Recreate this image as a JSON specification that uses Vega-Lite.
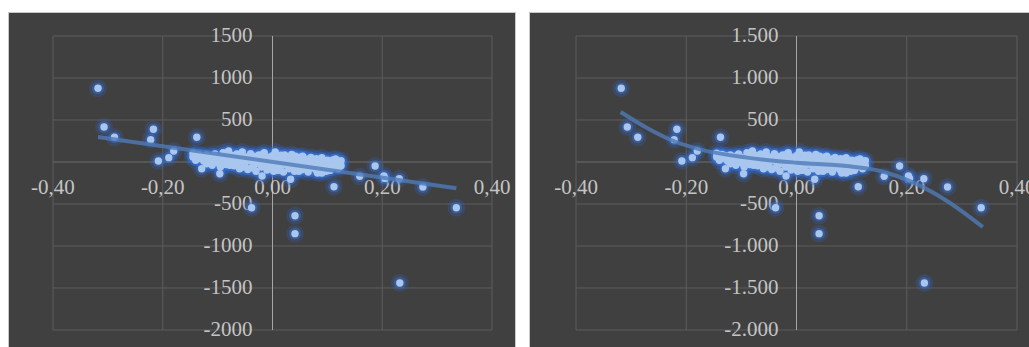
{
"$schema": "https://vega.github.io/schema/vega-lite/v6.json",
"background": "white",
"padding": {"left": 7, "top": 11, "right": 0, "bottom": 0},
"spacing": 12,
"config": {"view": {"fill": "#404040", "stroke": "#c8c8c8", "strokeWidth": 1}},
"datasets": {
"pts": [
{"x":-0.318,"y":877},{"x":-0.307,"y":417},{"x":-0.288,"y":294},{"x":-0.217,"y":389},{"x":-0.222,"y":266},{"x":-0.208,"y":12},{"x":-0.189,"y":52},{"x":-0.18,"y":131},{"x":-0.138,"y":294},{"x":-0.129,"y":-80},{"x":-0.096,"y":-139},{"x":-0.038,"y":-544},{"x":-0.019,"y":-167},{"x":0.041,"y":-639},{"x":0.041,"y":-853},{"x":0.033,"y":-206},{"x":0.112,"y":-294},{"x":0.159,"y":-171},{"x":0.187,"y":-48},{"x":0.203,"y":-167},{"x":0.205,"y":-195},{"x":0.231,"y":-198},{"x":0.274,"y":-298},{"x":0.335,"y":-544},{"x":0.232,"y":-1440},
{"x":-0.145,"y":105},{"x":-0.145,"y":60},{"x":-0.14,"y":80},{"x":-0.14,"y":20},{"x":-0.135,"y":55},{"x":-0.135,"y":90},{"x":-0.13,"y":40},{"x":-0.13,"y":75},{"x":-0.125,"y":10},{"x":-0.125,"y":65},{"x":-0.12,"y":85},{"x":-0.12,"y":-20},{"x":-0.115,"y":45},{"x":-0.115,"y":5},{"x":-0.11,"y":70},{"x":-0.11,"y":-40},{"x":-0.105,"y":20},{"x":-0.105,"y":95},{"x":-0.1,"y":-10},{"x":-0.1,"y":55},{"x":-0.095,"y":40},{"x":-0.095,"y":-60},{"x":-0.09,"y":110},{"x":-0.09,"y":10},{"x":-0.085,"y":-30},{"x":-0.085,"y":60},{"x":-0.08,"y":25},{"x":-0.08,"y":130},{"x":-0.075,"y":-5},{"x":-0.075,"y":80},{"x":-0.07,"y":45},{"x":-0.07,"y":-45},{"x":-0.065,"y":95},{"x":-0.065,"y":-15},{"x":-0.06,"y":30},{"x":-0.06,"y":-80},{"x":-0.055,"y":120},{"x":-0.055,"y":0},{"x":-0.05,"y":60},{"x":-0.05,"y":-35},{"x":-0.045,"y":-90},{"x":-0.045,"y":40},{"x":-0.04,"y":15},{"x":-0.04,"y":100},{"x":-0.035,"y":-50},{"x":-0.035,"y":70},{"x":-0.03,"y":30},{"x":-0.03,"y":-110},{"x":-0.025,"y":85},{"x":-0.025,"y":-20},{"x":-0.02,"y":-60},{"x":-0.02,"y":45},{"x":-0.015,"y":10},{"x":-0.015,"y":110},{"x":-0.01,"y":-95},{"x":-0.01,"y":60},{"x":-0.005,"y":25},{"x":-0.005,"y":-40},{"x":0.0,"y":75},{"x":0.0,"y":-70},{"x":0.005,"y":-15},{"x":0.005,"y":120},{"x":0.01,"y":40},{"x":0.01,"y":-100},{"x":0.015,"y":-45},{"x":0.015,"y":80},{"x":0.02,"y":15},{"x":0.02,"y":-120},{"x":0.025,"y":60},{"x":0.025,"y":-30},{"x":0.03,"y":-80},{"x":0.03,"y":25},{"x":0.035,"y":90},{"x":0.035,"y":-55},{"x":0.04,"y":-10},{"x":0.04,"y":-110},{"x":0.045,"y":45},{"x":0.045,"y":-75},{"x":0.05,"y":-35},{"x":0.05,"y":20},{"x":0.055,"y":70},{"x":0.055,"y":-90},{"x":0.06,"y":-50},{"x":0.06,"y":5},{"x":0.065,"y":35},{"x":0.065,"y":-120},{"x":0.07,"y":-70},{"x":0.07,"y":55},{"x":0.075,"y":0},{"x":0.075,"y":-45},{"x":0.08,"y":40},{"x":0.08,"y":-100},{"x":0.085,"y":-20},{"x":0.085,"y":-65},{"x":0.09,"y":50},{"x":0.09,"y":-130},{"x":0.095,"y":-5},{"x":0.095,"y":-80},{"x":0.1,"y":20},{"x":0.1,"y":-50},{"x":0.105,"y":-100},{"x":0.105,"y":0},{"x":0.11,"y":25},{"x":0.11,"y":-60},{"x":0.115,"y":-20},{"x":0.115,"y":35},{"x":0.12,"y":10},{"x":0.12,"y":-80},{"x":0.125,"y":15},{"x":0.125,"y":-45},
{"x":-0.088,"y":50},{"x":-0.072,"y":70},{"x":-0.062,"y":40},{"x":-0.052,"y":-60},{"x":-0.042,"y":65},{"x":-0.032,"y":-20},{"x":-0.022,"y":20},{"x":-0.012,"y":-30},{"x":-0.002,"y":30},{"x":0.008,"y":-50},{"x":0.018,"y":55},{"x":0.028,"y":-10},{"x":0.038,"y":40},{"x":0.048,"y":-110},{"x":0.058,"y":30},{"x":0.068,"y":-20},{"x":0.078,"y":-80},{"x":0.088,"y":10},{"x":0.098,"y":-110},{"x":-0.078,"y":-40},{"x":-0.058,"y":85},{"x":-0.038,"y":-70},{"x":-0.018,"y":90},{"x":0.002,"y":-110},{"x":0.022,"y":85},{"x":0.042,"y":70},{"x":0.062,"y":-70},{"x":0.082,"y":-130},{"x":0.052,"y":60},{"x":0.012,"y":20}
],
"hgrid": [{"h":1500},{"h":1000},{"h":500},{"h":0},{"h":-500},{"h":-1000},{"h":-1500},{"h":-2000}],
"vgrid": [{"v":-0.4},{"v":-0.2},{"v":0},{"v":0.2},{"v":0.4}],
"xlab": [{"v":-0.4,"t":"-0,40"},{"v":-0.2,"t":"-0,20"},{"v":0,"t":"0,00"},{"v":0.2,"t":"0,20"},{"v":0.4,"t":"0,40"}],
"ylabL": [{"v":1500,"t":"1500"},{"v":1000,"t":"1000"},{"v":500,"t":"500"},{"v":0,"t":"0"},{"v":-500,"t":"-500"},{"v":-1000,"t":"-1000"},{"v":-1500,"t":"-1500"},{"v":-2000,"t":"-2000"}],
"ylabR": [{"v":1500,"t":"1.500"},{"v":1000,"t":"1.000"},{"v":500,"t":"500"},{"v":0,"t":"0"},{"v":-500,"t":"-500"},{"v":-1000,"t":"-1.000"},{"v":-1500,"t":"-1.500"},{"v":-2000,"t":"-2.000"}],
"trendL": [{"x":-0.318,"y":298},{"x":0.335,"y":-313}],
"trendR": [{"x":-0.319,"y":595},{"x":-0.272,"y":408},{"x":-0.223,"y":250},{"x":-0.175,"y":151},{"x":-0.09,"y":52},{"x":0.0,"y":-8},{"x":0.091,"y":-48},{"x":0.152,"y":-107},{"x":0.212,"y":-246},{"x":0.273,"y":-464},{"x":0.338,"y":-774}]
},
"hconcat": [
{
"width": 507, "height": 336,
"layer": [
{"data": {"name": "hgrid"}, "transform": [{"filter": "datum.h != 0"}], "mark": {"type": "rule", "color": "#5c5c5c", "strokeWidth": 1},
 "encoding": {"y": {"field": "h", "type": "quantitative", "scale": {"domain": [-2214.3, 1785.7], "nice": false, "zero": false}, "axis": null},
  "x": {"datum": -0.4, "type": "quantitative", "scale": {"domain": [-0.482, 0.4419], "nice": false, "zero": false}, "axis": null}, "x2": {"datum": 0.4}}},
{"data": {"name": "hgrid"}, "transform": [{"filter": "datum.h == 0"}], "mark": {"type": "rule", "color": "#6e6e6e", "strokeWidth": 1},
 "encoding": {"y": {"field": "h", "type": "quantitative"}, "x": {"datum": -0.4, "type": "quantitative"}, "x2": {"datum": 0.4}}},
{"data": {"name": "vgrid"}, "transform": [{"filter": "datum.v != 0"}], "mark": {"type": "rule", "color": "#5c5c5c", "strokeWidth": 1},
 "encoding": {"x": {"field": "v", "type": "quantitative"}, "y": {"datum": -2000, "type": "quantitative"}, "y2": {"datum": 1500}}},
{"data": {"name": "vgrid"}, "transform": [{"filter": "datum.v == 0"}], "mark": {"type": "rule", "color": "#a6a6a6", "strokeWidth": 1},
 "encoding": {"x": {"field": "v", "type": "quantitative"}, "y": {"datum": -2000, "type": "quantitative"}, "y2": {"datum": 1500}}},
{"data": {"name": "ylabL"}, "mark": {"type": "text", "align": "right", "baseline": "middle", "dx": -20, "font": "Liberation Serif", "fontSize": 21, "color": "#c4c4c4"},
 "encoding": {"y": {"field": "v", "type": "quantitative"}, "x": {"datum": 0, "type": "quantitative"}, "text": {"field": "t"}}},
{"data": {"name": "xlab"}, "mark": {"type": "text", "align": "center", "baseline": "middle", "dy": 26, "font": "Liberation Serif", "fontSize": 21, "color": "#c4c4c4"},
 "encoding": {"x": {"field": "v", "type": "quantitative"}, "y": {"datum": 0, "type": "quantitative"}, "text": {"field": "t"}}},
{"data": {"name": "pts"}, "mark": {"type": "circle", "color": "#2e6ad4", "opacity": 0.22, "size": 320},
 "encoding": {"x": {"field": "x", "type": "quantitative"}, "y": {"field": "y", "type": "quantitative"}}},
{"data": {"name": "pts"}, "mark": {"type": "circle", "color": "#3a78e0", "opacity": 0.4, "size": 140},
 "encoding": {"x": {"field": "x", "type": "quantitative"}, "y": {"field": "y", "type": "quantitative"}}},
{"data": {"name": "pts"}, "mark": {"type": "circle", "color": "#a9c6ee", "opacity": 1, "size": 55},
 "encoding": {"x": {"field": "x", "type": "quantitative"}, "y": {"field": "y", "type": "quantitative"}}},
{"data": {"name": "trendL"}, "mark": {"type": "line", "color": "#4f7ab8", "strokeWidth": 4, "opacity": 0.8},
 "encoding": {"x": {"field": "x", "type": "quantitative"}, "y": {"field": "y", "type": "quantitative"}}}
]
},
{
"width": 503, "height": 336,
"layer": [
{"data": {"name": "hgrid"}, "transform": [{"filter": "datum.h != 0"}], "mark": {"type": "rule", "color": "#5c5c5c", "strokeWidth": 1},
 "encoding": {"y": {"field": "h", "type": "quantitative", "scale": {"domain": [-2214.3, 1785.7], "nice": false, "zero": false}, "axis": null},
  "x": {"datum": -0.4, "type": "quantitative", "scale": {"domain": [-0.4853, 0.4272], "nice": false, "zero": false}, "axis": null}, "x2": {"datum": 0.4}}},
{"data": {"name": "hgrid"}, "transform": [{"filter": "datum.h == 0"}], "mark": {"type": "rule", "color": "#6e6e6e", "strokeWidth": 1},
 "encoding": {"y": {"field": "h", "type": "quantitative"}, "x": {"datum": -0.4, "type": "quantitative"}, "x2": {"datum": 0.4}}},
{"data": {"name": "vgrid"}, "transform": [{"filter": "datum.v != 0"}], "mark": {"type": "rule", "color": "#5c5c5c", "strokeWidth": 1},
 "encoding": {"x": {"field": "v", "type": "quantitative"}, "y": {"datum": -2000, "type": "quantitative"}, "y2": {"datum": 1500}}},
{"data": {"name": "vgrid"}, "transform": [{"filter": "datum.v == 0"}], "mark": {"type": "rule", "color": "#a6a6a6", "strokeWidth": 1},
 "encoding": {"x": {"field": "v", "type": "quantitative"}, "y": {"datum": -2000, "type": "quantitative"}, "y2": {"datum": 1500}}},
{"data": {"name": "ylabR"}, "mark": {"type": "text", "align": "right", "baseline": "middle", "dx": -18, "font": "Liberation Serif", "fontSize": 21, "color": "#c4c4c4"},
 "encoding": {"y": {"field": "v", "type": "quantitative"}, "x": {"datum": 0, "type": "quantitative"}, "text": {"field": "t"}}},
{"data": {"name": "xlab"}, "mark": {"type": "text", "align": "center", "baseline": "middle", "dy": 26, "font": "Liberation Serif", "fontSize": 21, "color": "#c4c4c4", "clip": true},
 "encoding": {"x": {"field": "v", "type": "quantitative"}, "y": {"datum": 0, "type": "quantitative"}, "text": {"field": "t"}}},
{"data": {"name": "pts"}, "mark": {"type": "circle", "color": "#2e6ad4", "opacity": 0.22, "size": 320},
 "encoding": {"x": {"field": "x", "type": "quantitative"}, "y": {"field": "y", "type": "quantitative"}}},
{"data": {"name": "pts"}, "mark": {"type": "circle", "color": "#3a78e0", "opacity": 0.4, "size": 140},
 "encoding": {"x": {"field": "x", "type": "quantitative"}, "y": {"field": "y", "type": "quantitative"}}},
{"data": {"name": "pts"}, "mark": {"type": "circle", "color": "#a9c6ee", "opacity": 1, "size": 55},
 "encoding": {"x": {"field": "x", "type": "quantitative"}, "y": {"field": "y", "type": "quantitative"}}},
{"data": {"name": "trendR"}, "mark": {"type": "line", "color": "#4f7ab8", "strokeWidth": 4, "opacity": 0.8, "interpolate": "monotone"},
 "encoding": {"x": {"field": "x", "type": "quantitative"}, "y": {"field": "y", "type": "quantitative"}}}
]
}
]
}
